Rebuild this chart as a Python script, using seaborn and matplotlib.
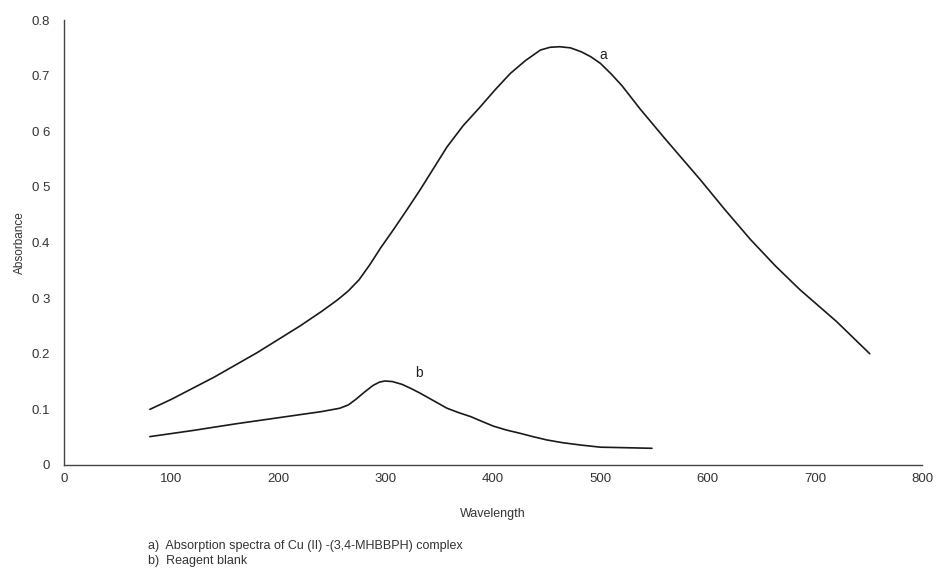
import matplotlib
matplotlib.use("Agg")
import matplotlib.pyplot as plt
import seaborn as sns
import pandas as pd

# Curve a: Cu(II)-(3,4-MHBBPH) complex
wl_a = [80, 100, 120, 140, 160, 180, 200, 220, 240, 255, 265, 275, 285, 295,
        307, 320, 332, 345, 357, 372, 388, 402, 416, 430, 444, 453, 462, 472,
        482, 491, 500, 510, 520, 537, 560, 593, 616, 640, 663, 686, 720, 751]
abs_a = [0.100, 0.118, 0.138, 0.158, 0.180, 0.202, 0.226, 0.250, 0.276, 0.297,
         0.313, 0.333, 0.360, 0.390, 0.423, 0.460, 0.495, 0.535, 0.572, 0.610,
         0.644, 0.675, 0.704, 0.727, 0.746, 0.751, 0.752, 0.750, 0.743, 0.734,
         0.722, 0.703, 0.682, 0.640, 0.587, 0.513, 0.459, 0.405, 0.358, 0.315,
         0.258, 0.200]

# Curve b: reagent blank
wl_b = [80, 120, 160, 200, 240, 257, 265, 272, 280, 288, 294, 299, 306, 315,
        324, 332, 345, 357, 368, 379, 390, 400, 412, 425, 437, 450, 465, 481,
        500, 525, 548]
abs_b = [0.051, 0.062, 0.074, 0.085, 0.096, 0.102, 0.108, 0.118, 0.131, 0.143,
         0.149, 0.151, 0.150, 0.145, 0.137, 0.129, 0.115, 0.102, 0.094, 0.087,
         0.078, 0.070, 0.063, 0.057, 0.051, 0.045, 0.040, 0.036, 0.032, 0.031,
         0.030]

x_ticks = [0, 100, 200, 300, 400, 500, 600, 700, 800]
y_ticks = [0, 0.1, 0.2, 0.3, 0.4, 0.5, 0.6, 0.7, 0.8]
y_tick_labels = ["0", "0.1", "0.2", "0 3", "0.4", "0 5", "0 6", "0.7", "0.8"]

df = pd.concat([
    pd.DataFrame({"Wavelength": wl_a, "Absorbance": abs_a, "curve": "a"}),
    pd.DataFrame({"Wavelength": wl_b, "Absorbance": abs_b, "curve": "b"}),
])

sns.set_theme(style="white")
plt.rcParams["font.family"] = ["Liberation Sans", "DejaVu Sans"]

fig = plt.figure(figsize=(9.36, 5.69), dpi=100)
ax = fig.add_axes([0.0684, 0.1828, 0.917, 0.782])

sns.lineplot(data=df, x="Wavelength", y="Absorbance", units="curve",
             estimator=None, color="#1a1a1a", linewidth=1.2, ax=ax, sort=False)

ax.set_xlim(0, 800)
ax.set_ylim(0, 0.8)
ax.set_xticks(x_ticks)
ax.set_xticklabels([str(t) for t in x_ticks])
ax.set_yticks(y_ticks)
ax.set_yticklabels(y_tick_labels)
ax.tick_params(axis="both", length=0, labelsize=9.5, colors="#333333")
ax.tick_params(axis="y", pad=10)
ax.tick_params(axis="x", pad=6)

for s in ["top", "right"]:
    ax.spines[s].set_visible(False)
for s in ["left", "bottom"]:
    ax.spines[s].set_color("#444444")
    ax.spines[s].set_linewidth(1.0)

ax.set_xlabel("Wavelength", fontsize=9, color="#333333", labelpad=16)
ax.set_ylabel("Absorbance", fontsize=8.5, color="#333333", labelpad=4)

ax.text(503, 0.737, "a", fontsize=10, color="#222222", ha="center", va="center")
ax.text(331, 0.165, "b", fontsize=10, color="#222222", ha="center", va="center")

fig.text(148 / 936, 1 - 546 / 569, "a)  Absorption spectra of Cu (II) -(3,4-MHBBPH) complex",
         fontsize=9, color="#333333", ha="left", va="center")
fig.text(148 / 936, 1 - 561 / 569, "b)  Reagent blank",
         fontsize=9, color="#333333", ha="left", va="center")

fig.savefig("out.png", dpi=100)
